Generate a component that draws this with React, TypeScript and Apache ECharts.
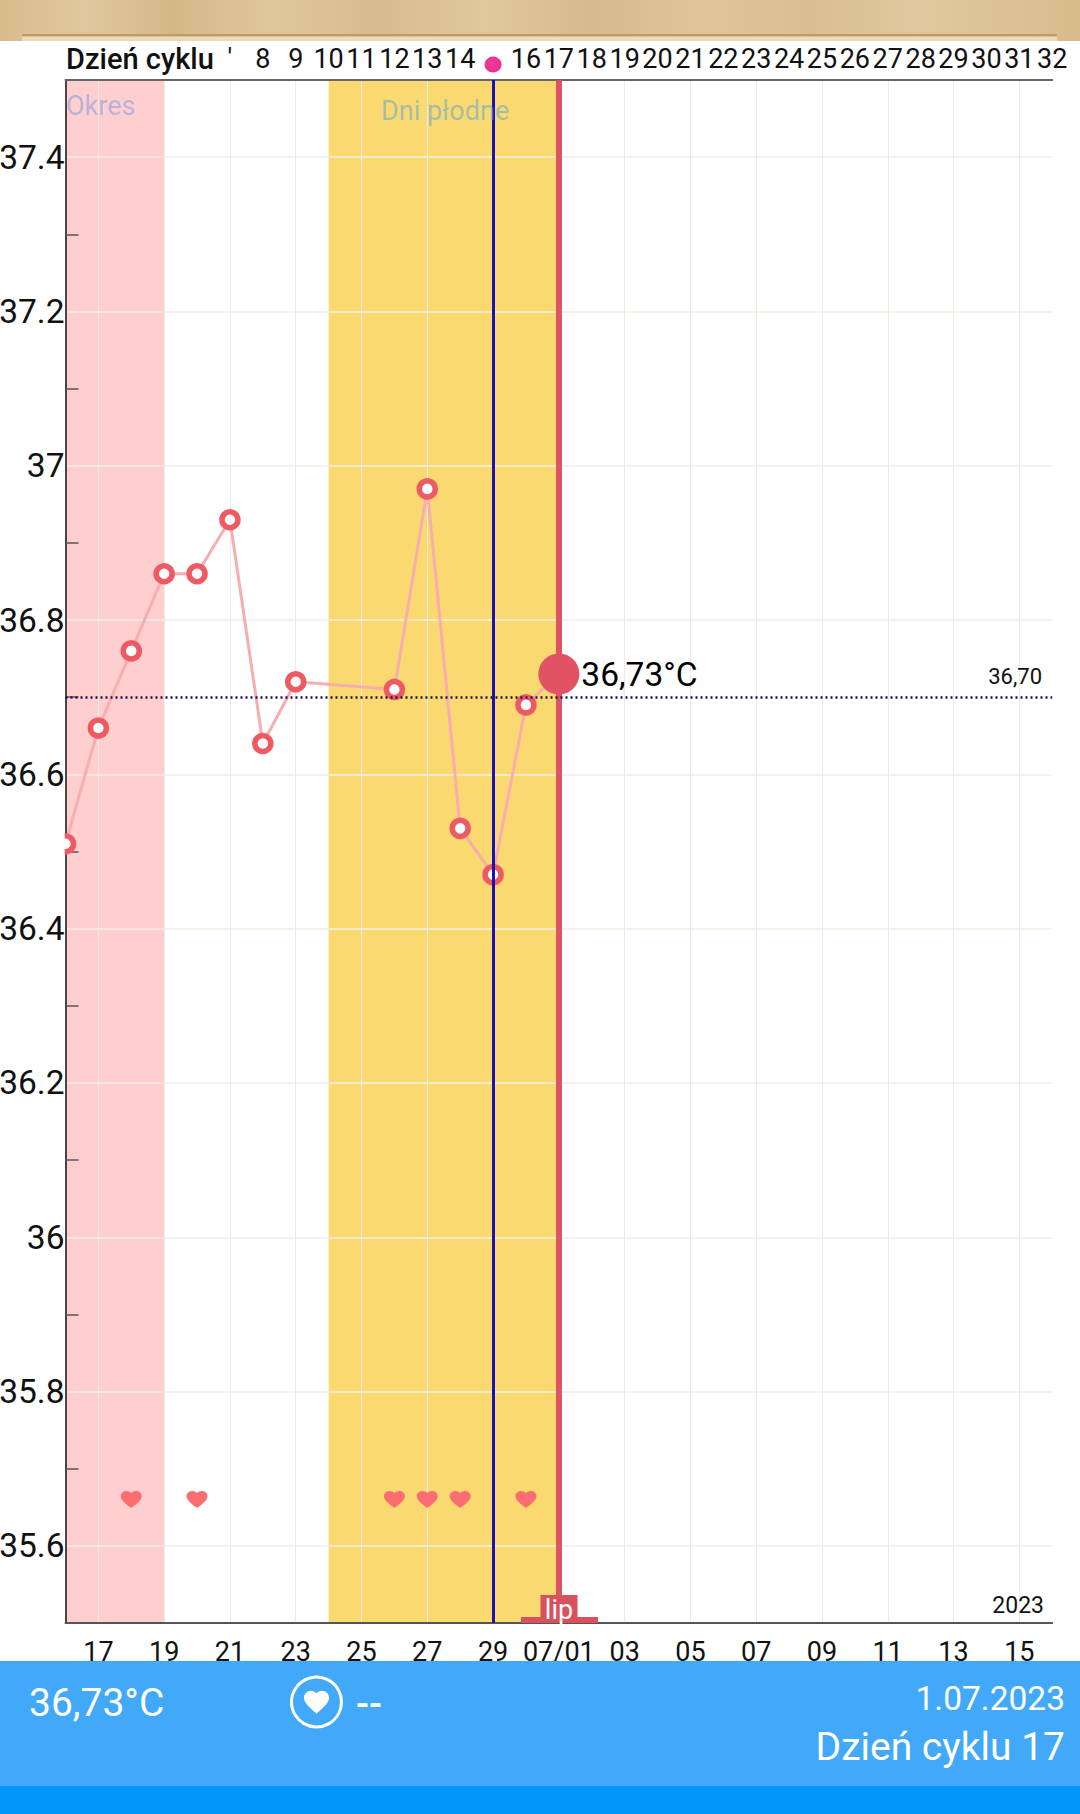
import React, { useEffect, useRef } from "react";
import * as echarts from "echarts";

const dateAxis = [
  "06/16","06/17","06/18","06/19","06/20","06/21","06/22","06/23","06/24","06/25","06/26","06/27","06/28","06/29","06/30",
  "07/01","07/02","07/03","07/04","07/05","07/06","07/07","07/08","07/09","07/10","07/11","07/12","07/13","07/14","07/15","07/16",
];
const cycleDays = [
  "2","3","4","5","6","7","8","9","10","11","12","13","14","15","16","17","18","19","20","21","22","23","24","25","26","27","28","29","30","31","32",
];
const tempDates = ["06/16","06/17","06/18","06/19","06/20","06/21","06/22","06/23","06/26","06/27","06/28","06/29","06/30","07/01"];
const tempValues = [36.51,36.66,36.76,36.86,36.86,36.93,36.64,36.72,36.71,36.97,36.53,36.47,36.69,36.73];
const heartDates = ["06/18","06/20","06/26","06/27","06/28","06/30"];
const heartLevel = 35.66;
const labelledTicks = [35.6,35.8,36,36.2,36.4,36.6,36.8,37,37.2,37.4];
const minorTicks = [35.7,35.9,36.1,36.3,36.5,36.7,36.9,37.1,37.3];
const periodRange = ["06/16","06/19"];
const fertileRange = ["06/24","07/01"];
const ovulationDate = "06/29";
const todayDate = "07/01";
const todayTemp = 36.73;
const coverLine = 36.7;

const FONT = "Roboto";
const HEART = "M12 21.35l-1.45-1.32C5.4 15.36 2 12.28 2 8.5 2 5.42 4.42 3 7.5 3c1.74 0 3.41.81 4.5 2.09C13.09 3.81 14.76 3 16.5 3 19.58 3 22 5.42 22 8.5c0 3.78-3.4 6.86-8.55 11.54L12 21.35z";

function txt(text: string, x: number, y: number, size: number, fill: string, align = "left", weight: any = 400, z = 20) {
  return { type: "text", x, y, z, silent: true, style: { text, fontSize: size, fontFamily: FONT, fontWeight: weight, fill, align, verticalAlign: "middle" } };
}
function box(x: number, y: number, width: number, height: number, fill: any, z = 20) {
  return { type: "rect", x, y, z, silent: true, shape: { x: 0, y: 0, width, height }, style: { fill } };
}

export default function App() {
  const ref = useRef<HTMLDivElement>(null);
  useEffect(() => {
    document.body.style.margin = "0";
    echarts.graphic.registerShape("heartIcon", echarts.graphic.extendPath(HEART, {}));
    const chart = echarts.init(ref.current!, null, { renderer: "svg" });
    const oddDay = (i: number) => i % 2 === 1;
    chart.setOption({
      animation: false,
      backgroundColor: "#ffffff",
      grid: { left: 65.5, right: 27.8, top: 80, bottom: 191, containLabel: false, outerBoundsMode: "none" },
      xAxis: [
        {
          type: "category", data: dateAxis, boundaryGap: false, position: "bottom", z: 2,
          axisLine: { onZero: false, lineStyle: { color: "#555555", width: 2 } },
          axisTick: { show: false },
          axisLabel: {
            interval: oddDay, margin: 15, fontSize: 27, fontFamily: FONT, color: "#111111",
            formatter: (v: string) => (v === "07/01" ? v : v.slice(3)),
          },
          splitLine: { show: true, interval: oddDay, lineStyle: { color: "#ECEBE6", width: 1 } },
        },
        {
          type: "category", data: cycleDays, boundaryGap: false, position: "top", z: 2,
          axisLine: { onZero: false, lineStyle: { color: "#666666", width: 2 } },
          axisTick: { show: false },
          splitLine: { show: false },
          axisLabel: {
            interval: 0, margin: 8, fontSize: 27, fontFamily: FONT, color: "#111111",
            formatter: (v: string) => {
              const n = Number(v);
              if (n < 7 || n === 15) return "";
              return n === 7 ? "'" : v;
            },
          },
        },
      ],
      yAxis: [
        {
          type: "value", min: 35.5, max: 37.5, position: "left", z: 2,
          axisLine: { show: true, onZero: false, lineStyle: { color: "#111111", width: 1.5 } },
          axisTick: { show: false, customValues: labelledTicks },
          axisLabel: {
            customValues: labelledTicks, margin: 1, fontSize: 33.5, fontFamily: FONT, color: "#111111",
            padding: [0, 0, 2, 0],
            formatter: (v: number) => String(Number(v.toFixed(1))),
          },
          splitLine: { show: true, lineStyle: { color: "#F1EFE4", width: 1.5 } },
        },
        {
          type: "value", min: 35.5, max: 37.5, position: "left", z: 2,
          axisLine: { show: false },
          axisTick: { show: true, customValues: minorTicks, inside: true, length: 13, lineStyle: { color: "#555555", width: 1.5 } },
          axisLabel: { show: false },
          splitLine: { show: false },
        },
      ],
      series: [
        {
          type: "line", data: [], z: 1, silent: true,
          markArea: {
            silent: true,
            data: [
              [{ xAxis: periodRange[0], itemStyle: { color: "#FFCFD0", opacity: 1 } }, { xAxis: periodRange[1] }],
              [{ xAxis: fertileRange[0], itemStyle: { color: "#FADA70", opacity: 1 } }, { xAxis: fertileRange[1] }],
            ],
          },
        },
        {
          type: "line", data: [], z: 3, silent: true,
          markLine: {
            silent: true, symbol: "none", label: { show: false },
            data: [
              { xAxis: ovulationDate, lineStyle: { color: "#1A10B4", width: 3, type: "solid", opacity: 1 } },
              { xAxis: todayDate, lineStyle: { color: "#DD5364", width: 6, type: "solid", opacity: 1 } },
              { yAxis: coverLine, lineStyle: { color: "#1A1050", width: 2.5, type: [2, 3], opacity: 1 } },
            ],
          },
        },
        {
          type: "line", z: 4, silent: true,
          data: tempDates.map((d, i) => [d, tempValues[i]]),
          lineStyle: { color: "#F6AEB0", width: 3 },
          symbol: "circle", symbolSize: 16, showSymbol: true, showAllSymbol: true,
          itemStyle: { color: "#ffffff", borderColor: "#EE5A64", borderWidth: 5.5 },
        },
        {
          type: "scatter", z: 5, silent: true, clip: false,
          data: [{
            value: [todayDate, todayTemp],
            label: { show: true, position: "right", distance: 2, formatter: "36,73°C", fontSize: 33.5, fontFamily: FONT, color: "#000000", opacity: 1 },
          }],
          symbol: "circle", symbolSize: 41,
          itemStyle: { color: "#E05264", opacity: 1 },
        },
        {
          type: "scatter", z: 4, silent: true,
          data: heartDates.map((d) => [d, heartLevel]),
          symbol: "path://" + HEART, symbolSize: [21, 17],
          itemStyle: { color: "#FA6E72", opacity: 1 },
        },
        {
          type: "scatter", z: 6, silent: true, clip: false,
          data: [[ovulationDate, 37.52]],
          symbol: "circle", symbolSize: [17, 16],
          itemStyle: {
            opacity: 1,
            color: { type: "radial", x: 0.45, y: 0.4, r: 0.7, colorStops: [{ offset: 0, color: "#EE3C9C" }, { offset: 0.8, color: "#EB2E92" }, { offset: 1, color: "#F69CCB" }] },
          },
        },
      ],
      graphic: {
        elements: [
          box(0, 0, 1080, 41, {
            type: "linear", x: 0, y: 0, x2: 1, y2: 0,
            colorStops: [
              { offset: 0, color: "#D9BC8C" }, { offset: 0.08, color: "#E0C79D" }, { offset: 0.16, color: "#D5B888" },
              { offset: 0.25, color: "#DFC69B" }, { offset: 0.35, color: "#D8BC8D" }, { offset: 0.45, color: "#E0C79C" },
              { offset: 0.55, color: "#D6BA8B" }, { offset: 0.65, color: "#DFC598" }, { offset: 0.75, color: "#D9BE90" },
              { offset: 0.85, color: "#E0C89E" }, { offset: 1, color: "#D8BC8C" },
            ],
          }),
          box(22, 34, 1035, 2.5, "#BD9A66"),
          box(22, 36.5, 1035, 4.5, "#EBD9B8"),
          box(52, 828, 12.7, 32, "#ffffff", 10),
          txt("Dzień cyklu", 66, 59, 29, "#111111", "left", 500),
          txt("Okres", 66, 106, 27, "rgba(100,140,225,0.45)"),
          txt("Dni płodne", 381, 111, 27, "rgba(110,170,200,0.6)"),
          txt("36,70", 1042, 676, 22, "#111111", "right"),
          txt("2023", 1044, 1605, 23, "#111111", "right"),
          box(521, 1617, 77, 6, "#D9505F"),
          box(540.5, 1595, 37, 28, "#D9505F"),
          txt("lip", 559, 1610, 27, "#ffffff", "center"),
          box(0, 1661, 1080, 125, "#42A8F8"),
          box(0, 1786, 1080, 28, "#0095F8"),
          txt("36,73°C", 29, 1703, 39, "#ffffff"),
          { type: "circle", z: 20, silent: true, shape: { cx: 316.5, cy: 1702, r: 25 }, style: { fill: "none", stroke: "#ffffff", lineWidth: 3 } },
          { type: "heartIcon", z: 20, silent: true, x: 301.5, y: 1687, scaleX: 1.25, scaleY: 1.25, style: { fill: "#ffffff" } },
          txt("--", 356, 1704, 38, "#ffffff", "left", 500),
          txt("1.07.2023", 1065, 1698, 33.5, "#ffffff", "right"),
          txt("Dzień cyklu 17", 1065, 1747, 39, "#ffffff", "right"),
        ],
      },
    });
    return () => chart.dispose();
  }, []);
  return <div ref={ref} style={{ width: 1080, height: 1814 }} />;
}
